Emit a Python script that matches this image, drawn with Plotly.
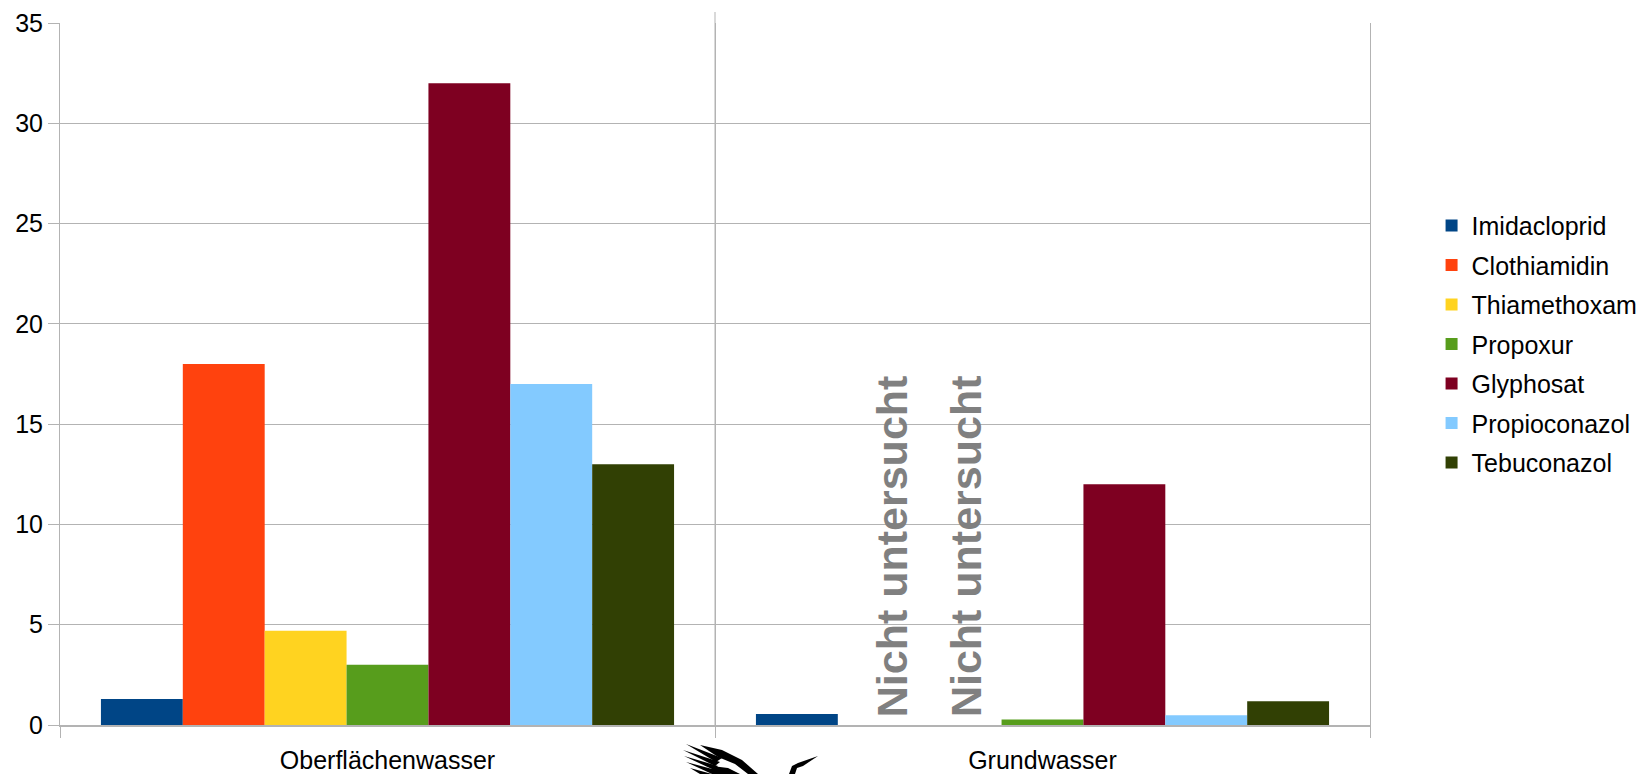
import plotly.graph_objects as go

categories = ["Oberflächenwasser", "Grundwasser"]
substances = ["Imidacloprid", "Clothiamidin", "Thiamethoxam", "Propoxur",
              "Glyphosat", "Propioconazol", "Tebuconazol"]
colors = ["#004586", "#ff420e", "#ffd320", "#579d1c", "#7e0021", "#83caff", "#314004"]
oberflaechenwasser = [1.3, 18, 4.7, 3.0, 32, 17, 13]
grundwasser = [0.55, None, None, 0.28, 12, 0.48, 1.18]
not_tested_label = "Nicht untersucht"
y_ticks = [0, 5, 10, 15, 20, 25, 30, 35]

FONT = "Liberation Sans, Arial, sans-serif"
GRID = "#b3b3b3"
bargap = 0.125
n = len(substances)

W, H = 1642, 774
ML, MR, MT, MB = 60, 272, 23, 49

fig = go.Figure()
for i, (name, color) in enumerate(zip(substances, colors)):
    fig.add_trace(go.Bar(
        name=name,
        x=categories,
        y=[oberflaechenwasser[i], grundwasser[i]],
        marker=dict(color=color, line=dict(width=0)),
        legendgroup=name,
    ))

# "Nicht untersucht" labels where no value exists
annotations = []
shifts = [14, 6]
k = 0
for ci, vals in enumerate([oberflaechenwasser, grundwasser]):
    for i, v in enumerate(vals):
        if v is None:
            xc = ci - (1 - bargap) / 2 + (i + 0.5) * (1 - bargap) / n
            annotations.append(dict(
                x=xc, y=8.9, xref="x", yref="y", text=not_tested_label,
                textangle=-90, showarrow=False, xshift=shifts[k % len(shifts)],
                font=dict(family=FONT, size=43, color="#808080", weight="bold"),
            ))
            k += 1

# --- decorative logo (partially visible bird at bottom) drawn in paper units ---
pw, ph = W - ML - MR, H - MT - MB
def P(px, py):
    return f"{(px - ML) / pw:.5f},{(H - MB - py) / ph:.5f}"
def poly(pts):
    return "M" + " L".join(P(*p) for p in pts) + " Z"

logo_shapes = []
feathers = [
    [(686, 744), (722, 758), (716, 762)],
    [(683, 750), (720, 762), (715, 766)],
    [(684, 756), (718, 766), (714, 770)],
    [(686, 762), (716, 770), (712, 774)],
    [(690, 768), (712, 774), (700, 774)],
]
for f in feathers:
    logo_shapes.append(dict(type="path", xref="paper", yref="paper", path=poly(f),
                            fillcolor="black", line=dict(width=0), layer="above"))
# upper wing band
logo_shapes.append(dict(type="path", xref="paper", yref="paper",
                        path=poly([(700, 745), (722, 750), (742, 760), (758, 774),
                                   (748, 774), (735, 764), (718, 757)]),
                        fillcolor="black", line=dict(width=0), layer="above"))
# lower wing body
logo_shapes.append(dict(type="path", xref="paper", yref="paper",
                        path=poly([(712, 766), (728, 768), (740, 774), (712, 774)]),
                        fillcolor="black", line=dict(width=0), layer="above"))
# head, neck and beak
logo_shapes.append(dict(type="path", xref="paper", yref="paper",
                        path=poly([(789, 774), (792, 766), (798, 763), (818, 756),
                                   (803, 766), (797, 768), (795, 774)]),
                        fillcolor="black", line=dict(width=0), layer="above"))

divider = dict(type="line", xref="x", yref="paper", x0=0.5, x1=0.5,
               y0=0, y1=1 + 11 / ph, line=dict(color=GRID, width=1), layer="below")

fig.update_layout(
    width=W, height=H,
    margin=dict(l=ML, r=MR, t=MT, b=MB, autoexpand=False),
    paper_bgcolor="white", plot_bgcolor="white",
    barmode="group", bargap=bargap, bargroupgap=0,
    font=dict(family=FONT, size=25, color="#000000"),
    annotations=annotations,
    legend=dict(
        x=1.047, xanchor="left", y=0.5425, yanchor="middle",
        font=dict(family=FONT, size=25, color="#000000"),
        tracegroupgap=4, bgcolor="rgba(0,0,0,0)",
    ),
    showlegend=True,
    shapes=[divider] + logo_shapes,
)
fig.update_xaxes(
    type="category", tickson="boundaries", ticks="outside", ticklen=11,
    tickcolor=GRID, showgrid=True, gridcolor=GRID, gridwidth=1,
    showline=True, linecolor=GRID, linewidth=2, automargin=False,
    tickfont=dict(family=FONT, size=25, color="#000000"), ticklabelstandoff=12,
)
fig.update_yaxes(
    range=[0, 35], tickvals=y_ticks, ticks="outside", ticklen=11, tickcolor=GRID,
    showgrid=True, gridcolor=GRID, gridwidth=1, zeroline=False,
    showline=True, linecolor=GRID, linewidth=1, mirror=True, automargin=False,
    tickfont=dict(family=FONT, size=25, color="#000000"), ticklabelstandoff=0,
)

fig.write_html("out.html")
